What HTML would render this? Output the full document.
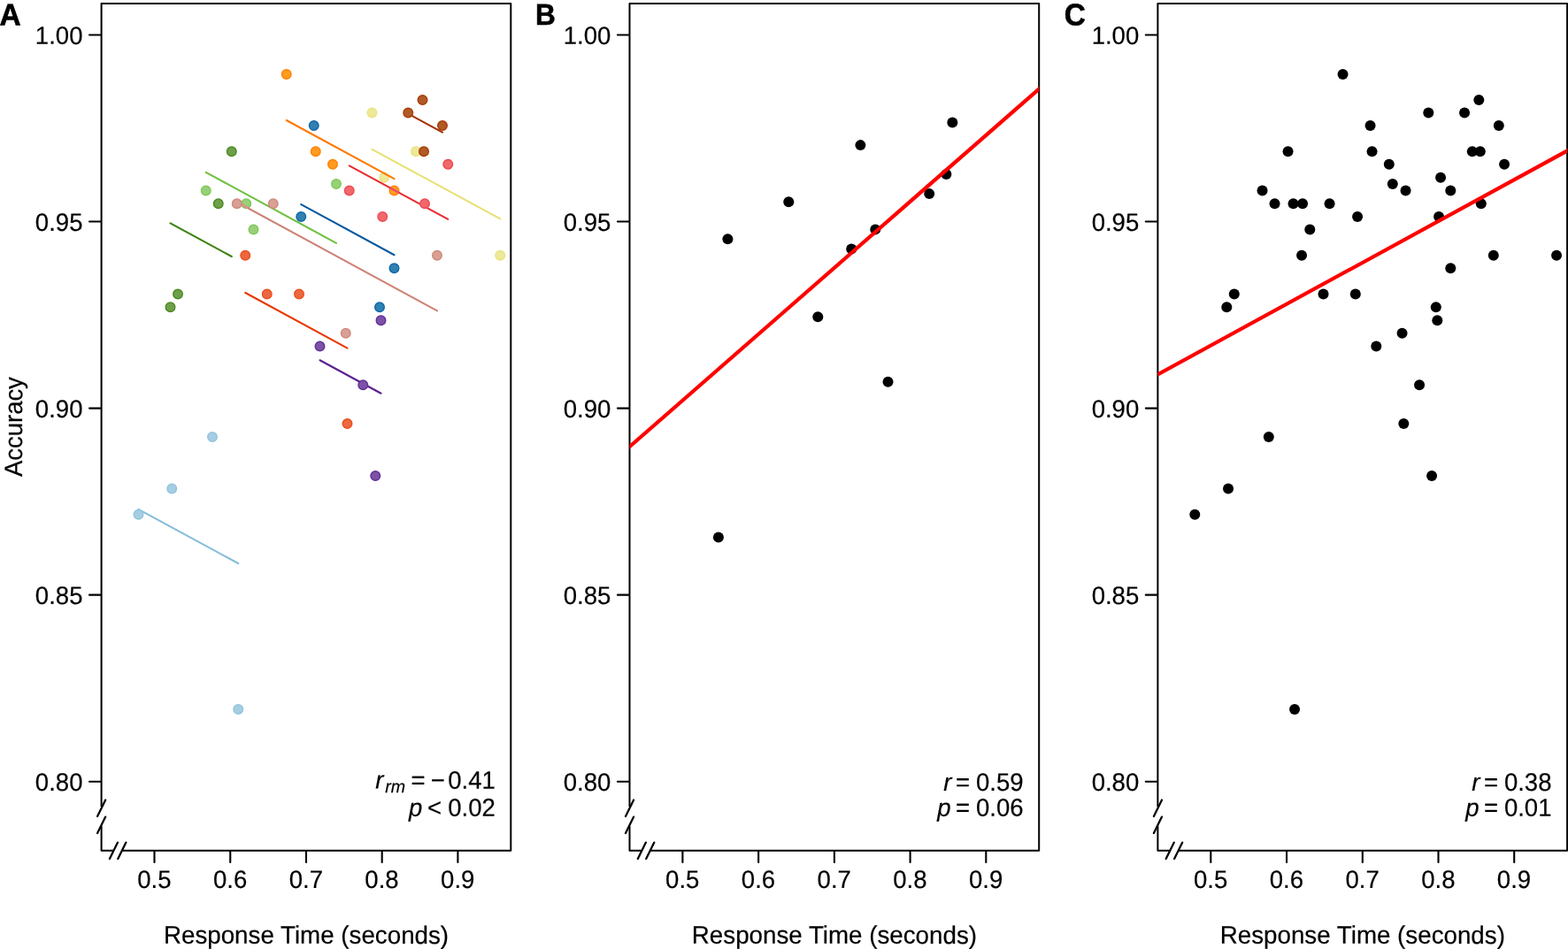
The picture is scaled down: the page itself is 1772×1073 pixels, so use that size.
<!DOCTYPE html>
<html lang="en">
<head>
<meta charset="utf-8">
<title>Accuracy vs. Response Time</title>
<style>
html,body{margin:0;padding:0;background:#fff;}
body{width:1772px;height:1073px;}
svg{display:block;}
text{font-family:"Liberation Sans",sans-serif;fill:#000;}
.t{font-size:28.4px;stroke:#000;stroke-width:0.2px;}
.lab{font-size:34.6px;font-weight:bold;stroke:#000;stroke-width:0.6px;stroke-linejoin:miter;}
.it{font-style:italic;}
.sub{font-style:italic;font-size:20.2px;}
.ax{stroke:#000;stroke-width:2;fill:none;stroke-linecap:butt;stroke-linejoin:round;}
.tk{stroke:#000;stroke-width:2.1;fill:none;stroke-linecap:round;}
.br{stroke:#000;stroke-width:2.25;fill:none;stroke-linecap:round;}
.fit{stroke:#ff0000;stroke-width:4.2;fill:none;}
.rm{stroke-width:2.1;fill:none;stroke-linecap:round;}
.d{stroke-width:1.4;}
.k{fill:#000;}
</style>
</head>
<body>
<svg width="1772" height="1073" viewBox="0 0 1772 1073" role="img" aria-label="Accuracy versus response time, three panels">
<rect x="0" y="0" width="1772" height="1073" fill="#fff"/>
<g id="panel-A">
<text class="lab" style="font-size:34.6px" transform="translate(-0.4 28.6) rotate(0.05) scale(0.965 1)">A</text>
<path class="ax" d="M114.6 912 V4.1 H577.3 V961.75 H137.6"/>
<path class="ax" d="M114.6 934 V961.75 H127.9"/>
<line class="br" x1="110.1" y1="923" x2="119.2" y2="904.5"/>
<line class="br" x1="110.1" y1="942.1" x2="119.2" y2="923.6"/>
<line class="br" x1="123.9" y1="970.9" x2="133" y2="952.6"/>
<line class="br" x1="133.3" y1="970.9" x2="142.4" y2="952.6"/>
<line class="tk" x1="101" y1="39.5" x2="113.6" y2="39.5"/>
<text class="t" text-anchor="end" transform="translate(93.45 49.9) rotate(0.05) scale(0.97 1)">1.00</text>
<line class="tk" x1="101" y1="250.55" x2="113.6" y2="250.55"/>
<text class="t" text-anchor="end" transform="translate(93.45 260.95) rotate(0.05) scale(0.97 1)">0.95</text>
<line class="tk" x1="101" y1="461.6" x2="113.6" y2="461.6"/>
<text class="t" text-anchor="end" transform="translate(93.45 472) rotate(0.05) scale(0.97 1)">0.90</text>
<line class="tk" x1="101" y1="672.65" x2="113.6" y2="672.65"/>
<text class="t" text-anchor="end" transform="translate(93.45 683.05) rotate(0.05) scale(0.97 1)">0.85</text>
<line class="tk" x1="101" y1="883.7" x2="113.6" y2="883.7"/>
<text class="t" text-anchor="end" transform="translate(93.45 894.1) rotate(0.05) scale(0.97 1)">0.80</text>
<line class="tk" x1="174.5" y1="962.75" x2="174.5" y2="974.9"/>
<text class="t" text-anchor="middle" transform="translate(174.3 1004) rotate(0.05) scale(0.97 1)">0.5</text>
<line class="tk" x1="260.25" y1="962.75" x2="260.25" y2="974.9"/>
<text class="t" text-anchor="middle" transform="translate(260.05 1004) rotate(0.05) scale(0.97 1)">0.6</text>
<line class="tk" x1="346" y1="962.75" x2="346" y2="974.9"/>
<text class="t" text-anchor="middle" transform="translate(345.8 1004) rotate(0.05) scale(0.97 1)">0.7</text>
<line class="tk" x1="431.7" y1="962.75" x2="431.7" y2="974.9"/>
<text class="t" text-anchor="middle" transform="translate(431.5 1004) rotate(0.05) scale(0.97 1)">0.8</text>
<line class="tk" x1="517.4" y1="962.75" x2="517.4" y2="974.9"/>
<text class="t" text-anchor="middle" transform="translate(517.2 1004) rotate(0.05) scale(0.97 1)">0.9</text>
<text class="t tt" text-anchor="middle" transform="translate(346 1066.8) rotate(0.05) scale(0.977 1)">Response Time (seconds)</text>
<text class="t tt" text-anchor="middle" transform="translate(25.1 482.6) rotate(-89.95) scale(0.967 1)">Accuracy</text>
<g id="s-lblue">
<line class="rm" stroke="#85bdda" x1="156.5" y1="575.8" x2="269.25" y2="637.02"/>
<circle class="d" cx="156.5" cy="581.75" r="5.3" fill="#a6cde2" stroke="#93c3dd"/>
<circle class="d" cx="194.25" cy="552.5" r="5.3" fill="#a6cde2" stroke="#93c3dd"/>
<circle class="d" cx="240" cy="494" r="5.3" fill="#a6cde2" stroke="#93c3dd"/>
<circle class="d" cx="269.25" cy="802" r="5.3" fill="#a6cde2" stroke="#93c3dd"/>
</g>
<g id="s-dgreen">
<line class="rm" stroke="#3e8412" x1="192.5" y1="252.39" x2="261.75" y2="290"/>
<circle class="d" cx="192.5" cy="347.25" r="5.3" fill="#6e9f4a" stroke="#4a8a20"/>
<circle class="d" cx="201" cy="332.5" r="5.3" fill="#6e9f4a" stroke="#4a8a20"/>
<circle class="d" cx="246.75" cy="230.25" r="5.3" fill="#6e9f4a" stroke="#4a8a20"/>
<circle class="d" cx="261.75" cy="171.25" r="5.3" fill="#6e9f4a" stroke="#4a8a20"/>
</g>
<g id="s-lgreen">
<line class="rm" stroke="#70c040" x1="232.75" y1="194.85" x2="380" y2="274.81"/>
<circle class="d" cx="232.75" cy="215.5" r="5.3" fill="#98d078" stroke="#80c858"/>
<circle class="d" cx="278.25" cy="230.25" r="5.3" fill="#98d078" stroke="#80c858"/>
<circle class="d" cx="286.5" cy="259.5" r="5.3" fill="#98d078" stroke="#80c858"/>
<circle class="d" cx="380" cy="208" r="5.3" fill="#98d078" stroke="#80c858"/>
</g>
<g id="s-rosy">
<line class="rm" stroke="#ce8276" x1="267.75" y1="228.52" x2="494" y2="351.38"/>
<clipPath id="x-rosy"><circle cx="278.25" cy="230.25" r="5.6"/></clipPath>
<line class="rm" stroke="#ec8a98" clip-path="url(#x-rosy)" x1="267.75" y1="228.52" x2="494" y2="351.38"/>
<circle class="d" cx="267.75" cy="230.25" r="5.3" fill="#d9a094" stroke="#d08a7c"/>
<circle class="d" cx="308.75" cy="230.25" r="5.3" fill="#d9a094" stroke="#d08a7c"/>
<circle class="d" cx="390.75" cy="376.75" r="5.3" fill="#d9a094" stroke="#d08a7c"/>
<circle class="d" cx="494" cy="288.75" r="5.3" fill="#d9a094" stroke="#d08a7c"/>
</g>
<g id="s-ored">
<line class="rm" stroke="#e83800" x1="277.25" y1="330.97" x2="392.5" y2="393.55"/>
<circle class="d" cx="277.25" cy="288.75" r="5.3" fill="#ec6840" stroke="#ea4e1c"/>
<circle class="d" cx="301.75" cy="332.5" r="5.3" fill="#ec6840" stroke="#ea4e1c"/>
<circle class="d" cx="338" cy="332.5" r="5.3" fill="#ec6840" stroke="#ea4e1c"/>
<circle class="d" cx="392.5" cy="479" r="5.3" fill="#ec6840" stroke="#ea4e1c"/>
</g>
<g id="s-yellow">
<line class="rm" stroke="#e8e070" x1="420.5" y1="168.83" x2="565.25" y2="247.43"/>
<circle class="d" cx="420.5" cy="127.5" r="5.3" fill="#ede998" stroke="#e8e480"/>
<circle class="d" cx="470" cy="171.25" r="5.3" fill="#ede998" stroke="#e8e480"/>
<circle class="d" cx="434.25" cy="200.75" r="5.3" fill="#ede998" stroke="#e8e480"/>
<circle class="d" cx="565.25" cy="288.75" r="5.3" fill="#ede998" stroke="#e8e480"/>
</g>
<g id="s-orange">
<line class="rm" stroke="#ff7800" x1="323.75" y1="136.02" x2="445.5" y2="202.13"/>
<circle class="d" cx="323.75" cy="84" r="5.3" fill="#ff9c20" stroke="#ff8000"/>
<circle class="d" cx="356.75" cy="171.25" r="5.3" fill="#ff9c20" stroke="#ff8000"/>
<circle class="d" cx="376" cy="185.75" r="5.3" fill="#ff9c20" stroke="#ff8000"/>
<circle class="d" cx="445.5" cy="215.5" r="5.3" fill="#ff9c20" stroke="#ff8000"/>
</g>
<g id="s-blue">
<line class="rm" stroke="#075aa0" x1="340.25" y1="231.07" x2="445.5" y2="288.22"/>
<circle class="d" cx="354.75" cy="142" r="5.3" fill="#3080b2" stroke="#1068a8"/>
<circle class="d" cx="340.25" cy="245" r="5.3" fill="#3080b2" stroke="#1068a8"/>
<circle class="d" cx="445.5" cy="303.25" r="5.3" fill="#3080b2" stroke="#1068a8"/>
<circle class="d" cx="429" cy="347.25" r="5.3" fill="#3080b2" stroke="#1068a8"/>
</g>
<g id="s-purple">
<line class="rm" stroke="#5a2090" x1="361.5" y1="407.25" x2="430.5" y2="444.71"/>
<circle class="d" cx="430.5" cy="362.25" r="5.3" fill="#7d52a6" stroke="#60309a"/>
<circle class="d" cx="361.5" cy="391.5" r="5.3" fill="#7d52a6" stroke="#60309a"/>
<circle class="d" cx="410.25" cy="435.25" r="5.3" fill="#7d52a6" stroke="#60309a"/>
<circle class="d" cx="424.25" cy="538" r="5.3" fill="#7d52a6" stroke="#60309a"/>
</g>
<g id="s-pink">
<line class="rm" stroke="#eb2a30" x1="394.75" y1="187.33" x2="506.25" y2="247.87"/>
<clipPath id="x-pink"><circle cx="445.5" cy="215.5" r="5.6"/></clipPath>
<line class="rm" stroke="#e8527c" clip-path="url(#x-pink)" x1="394.75" y1="187.33" x2="506.25" y2="247.87"/>
<circle class="d" cx="506.25" cy="185.75" r="5.3" fill="#f0686c" stroke="#ee4a52"/>
<circle class="d" cx="394.75" cy="215.5" r="5.3" fill="#f0686c" stroke="#ee4a52"/>
<circle class="d" cx="480" cy="230.25" r="5.3" fill="#f0686c" stroke="#ee4a52"/>
<circle class="d" cx="432.25" cy="245" r="5.3" fill="#f0686c" stroke="#ee4a52"/>
</g>
<g id="s-brown">
<line class="rm" stroke="#a63000" x1="461.25" y1="128.56" x2="500" y2="149.6"/>
<circle class="d" cx="477.5" cy="113" r="5.3" fill="#b05a28" stroke="#a83c04"/>
<circle class="d" cx="461.25" cy="127.5" r="5.3" fill="#b05a28" stroke="#a83c04"/>
<circle class="d" cx="500" cy="142" r="5.3" fill="#b05a28" stroke="#a83c04"/>
<circle class="d" cx="479" cy="171.25" r="5.3" fill="#b05a28" stroke="#a83c04"/>
</g>
<text class="t" transform="translate(424.2 891.6) rotate(0.05) scale(0.97 1)"><tspan class="it" x="0" y="0">r</tspan><tspan class="sub" x="11.44" y="4.6">rm</tspan><tspan x="41.44" y="0">=</tspan><tspan x="64.54" y="0">−</tspan><tspan x="84.64" y="0">0.41</tspan></text>
<text class="t" transform="translate(462.1 922.7) rotate(0.05) scale(0.97 1)"><tspan class="it" x="0" y="0">p</tspan><tspan x="21.55" y="0">&lt;</tspan><tspan x="45.57" y="0">0.02</tspan></text>
</g>
<g id="panel-B">
<text class="lab" style="font-size:33.6px" transform="translate(604.9 28.1) rotate(0.05) scale(0.94 1)">B</text>
<path class="ax" d="M711.5 912 V4.1 H1174.2 V961.75 H734.5"/>
<path class="ax" d="M711.5 934 V961.75 H724.8"/>
<line class="br" x1="707" y1="923" x2="716.1" y2="904.5"/>
<line class="br" x1="707" y1="942.1" x2="716.1" y2="923.6"/>
<line class="br" x1="720.8" y1="970.9" x2="729.9" y2="952.6"/>
<line class="br" x1="730.2" y1="970.9" x2="739.3" y2="952.6"/>
<line class="tk" x1="697.9" y1="39.5" x2="710.5" y2="39.5"/>
<text class="t" text-anchor="end" transform="translate(690.35 49.9) rotate(0.05) scale(0.97 1)">1.00</text>
<line class="tk" x1="697.9" y1="250.55" x2="710.5" y2="250.55"/>
<text class="t" text-anchor="end" transform="translate(690.35 260.95) rotate(0.05) scale(0.97 1)">0.95</text>
<line class="tk" x1="697.9" y1="461.6" x2="710.5" y2="461.6"/>
<text class="t" text-anchor="end" transform="translate(690.35 472) rotate(0.05) scale(0.97 1)">0.90</text>
<line class="tk" x1="697.9" y1="672.65" x2="710.5" y2="672.65"/>
<text class="t" text-anchor="end" transform="translate(690.35 683.05) rotate(0.05) scale(0.97 1)">0.85</text>
<line class="tk" x1="697.9" y1="883.7" x2="710.5" y2="883.7"/>
<text class="t" text-anchor="end" transform="translate(690.35 894.1) rotate(0.05) scale(0.97 1)">0.80</text>
<line class="tk" x1="771.4" y1="962.75" x2="771.4" y2="974.9"/>
<text class="t" text-anchor="middle" transform="translate(771.2 1004) rotate(0.05) scale(0.97 1)">0.5</text>
<line class="tk" x1="857.15" y1="962.75" x2="857.15" y2="974.9"/>
<text class="t" text-anchor="middle" transform="translate(856.95 1004) rotate(0.05) scale(0.97 1)">0.6</text>
<line class="tk" x1="942.9" y1="962.75" x2="942.9" y2="974.9"/>
<text class="t" text-anchor="middle" transform="translate(942.7 1004) rotate(0.05) scale(0.97 1)">0.7</text>
<line class="tk" x1="1028.6" y1="962.75" x2="1028.6" y2="974.9"/>
<text class="t" text-anchor="middle" transform="translate(1028.4 1004) rotate(0.05) scale(0.97 1)">0.8</text>
<line class="tk" x1="1114.3" y1="962.75" x2="1114.3" y2="974.9"/>
<text class="t" text-anchor="middle" transform="translate(1114.1 1004) rotate(0.05) scale(0.97 1)">0.9</text>
<text class="t tt" text-anchor="middle" transform="translate(942.9 1066.8) rotate(0.05) scale(0.977 1)">Response Time (seconds)</text>
<circle class="k" cx="811.9" cy="607.56" r="6"/>
<circle class="k" cx="822.4" cy="270.31" r="6"/>
<circle class="k" cx="891.27" cy="228.31" r="6"/>
<circle class="k" cx="962.21" cy="281.5" r="6"/>
<circle class="k" cx="924.27" cy="358.19" r="6"/>
<circle class="k" cx="1069.4" cy="197.06" r="6"/>
<circle class="k" cx="972.4" cy="164.12" r="6"/>
<circle class="k" cx="989.27" cy="259.38" r="6"/>
<circle class="k" cx="1003.52" cy="431.75" r="6"/>
<circle class="k" cx="1050.21" cy="219.12" r="6"/>
<circle class="k" cx="1076.34" cy="138.44" r="6"/>
<clipPath id="clip1"><rect x="711.5" y="0" width="462.7" height="1073"/></clipPath>
<line class="fit" clip-path="url(#clip1)" x1="703.5" y1="512.09" x2="1182.2" y2="93.61"/>
<text class="t" transform="translate(1066.3 893.9) rotate(0.05) scale(0.97 1)"><tspan class="it" x="0" y="0">r</tspan><tspan x="14.23" y="0">=</tspan><tspan x="37.84" y="0">0.59</tspan></text>
<text class="t" transform="translate(1059.3 922.7) rotate(0.05) scale(0.97 1)"><tspan class="it" x="0" y="0">p</tspan><tspan x="21.44" y="0">=</tspan><tspan x="45.05" y="0">0.06</tspan></text>
</g>
<g id="panel-C">
<text class="lab" style="font-size:34.6px" transform="translate(1202.7 28.42) rotate(0.05) scale(0.964 1)">C</text>
<path class="ax" d="M1308.4 912 V4.1 H1771.1 V961.75 H1331.4"/>
<path class="ax" d="M1308.4 934 V961.75 H1321.7"/>
<line class="br" x1="1303.9" y1="923" x2="1313" y2="904.5"/>
<line class="br" x1="1303.9" y1="942.1" x2="1313" y2="923.6"/>
<line class="br" x1="1317.7" y1="970.9" x2="1326.8" y2="952.6"/>
<line class="br" x1="1327.1" y1="970.9" x2="1336.2" y2="952.6"/>
<line class="tk" x1="1294.8" y1="39.5" x2="1307.4" y2="39.5"/>
<text class="t" text-anchor="end" transform="translate(1287.25 49.9) rotate(0.05) scale(0.97 1)">1.00</text>
<line class="tk" x1="1294.8" y1="250.55" x2="1307.4" y2="250.55"/>
<text class="t" text-anchor="end" transform="translate(1287.25 260.95) rotate(0.05) scale(0.97 1)">0.95</text>
<line class="tk" x1="1294.8" y1="461.6" x2="1307.4" y2="461.6"/>
<text class="t" text-anchor="end" transform="translate(1287.25 472) rotate(0.05) scale(0.97 1)">0.90</text>
<line class="tk" x1="1294.8" y1="672.65" x2="1307.4" y2="672.65"/>
<text class="t" text-anchor="end" transform="translate(1287.25 683.05) rotate(0.05) scale(0.97 1)">0.85</text>
<line class="tk" x1="1294.8" y1="883.7" x2="1307.4" y2="883.7"/>
<text class="t" text-anchor="end" transform="translate(1287.25 894.1) rotate(0.05) scale(0.97 1)">0.80</text>
<line class="tk" x1="1368.3" y1="962.75" x2="1368.3" y2="974.9"/>
<text class="t" text-anchor="middle" transform="translate(1368.1 1004) rotate(0.05) scale(0.97 1)">0.5</text>
<line class="tk" x1="1454.05" y1="962.75" x2="1454.05" y2="974.9"/>
<text class="t" text-anchor="middle" transform="translate(1453.85 1004) rotate(0.05) scale(0.97 1)">0.6</text>
<line class="tk" x1="1539.8" y1="962.75" x2="1539.8" y2="974.9"/>
<text class="t" text-anchor="middle" transform="translate(1539.6 1004) rotate(0.05) scale(0.97 1)">0.7</text>
<line class="tk" x1="1625.5" y1="962.75" x2="1625.5" y2="974.9"/>
<text class="t" text-anchor="middle" transform="translate(1625.3 1004) rotate(0.05) scale(0.97 1)">0.8</text>
<line class="tk" x1="1711.2" y1="962.75" x2="1711.2" y2="974.9"/>
<text class="t" text-anchor="middle" transform="translate(1711 1004) rotate(0.05) scale(0.97 1)">0.9</text>
<text class="t tt" text-anchor="middle" transform="translate(1539.8 1066.8) rotate(0.05) scale(0.977 1)">Response Time (seconds)</text>
<circle class="k" cx="1350.3" cy="581.75" r="6"/>
<circle class="k" cx="1388.05" cy="552.5" r="6"/>
<circle class="k" cx="1433.8" cy="494" r="6"/>
<circle class="k" cx="1463.05" cy="802" r="6"/>
<circle class="k" cx="1386.3" cy="347.25" r="6"/>
<circle class="k" cx="1394.8" cy="332.5" r="6"/>
<circle class="k" cx="1440.55" cy="230.25" r="6"/>
<circle class="k" cx="1455.55" cy="171.25" r="6"/>
<circle class="k" cx="1426.55" cy="215.5" r="6"/>
<circle class="k" cx="1472.05" cy="230.25" r="6"/>
<circle class="k" cx="1480.3" cy="259.5" r="6"/>
<circle class="k" cx="1573.8" cy="208" r="6"/>
<circle class="k" cx="1461.55" cy="230.25" r="6"/>
<circle class="k" cx="1502.55" cy="230.25" r="6"/>
<circle class="k" cx="1584.55" cy="376.75" r="6"/>
<circle class="k" cx="1687.8" cy="288.75" r="6"/>
<circle class="k" cx="1471.05" cy="288.75" r="6"/>
<circle class="k" cx="1495.55" cy="332.5" r="6"/>
<circle class="k" cx="1531.8" cy="332.5" r="6"/>
<circle class="k" cx="1586.3" cy="479" r="6"/>
<circle class="k" cx="1614.3" cy="127.5" r="6"/>
<circle class="k" cx="1663.8" cy="171.25" r="6"/>
<circle class="k" cx="1628.05" cy="200.75" r="6"/>
<circle class="k" cx="1759.05" cy="288.75" r="6"/>
<circle class="k" cx="1517.55" cy="84" r="6"/>
<circle class="k" cx="1550.55" cy="171.25" r="6"/>
<circle class="k" cx="1569.8" cy="185.75" r="6"/>
<circle class="k" cx="1639.3" cy="215.5" r="6"/>
<circle class="k" cx="1548.55" cy="142" r="6"/>
<circle class="k" cx="1534.05" cy="245" r="6"/>
<circle class="k" cx="1639.3" cy="303.25" r="6"/>
<circle class="k" cx="1622.8" cy="347.25" r="6"/>
<circle class="k" cx="1624.3" cy="362.25" r="6"/>
<circle class="k" cx="1555.3" cy="391.5" r="6"/>
<circle class="k" cx="1604.05" cy="435.25" r="6"/>
<circle class="k" cx="1618.05" cy="538" r="6"/>
<circle class="k" cx="1700.05" cy="185.75" r="6"/>
<circle class="k" cx="1588.55" cy="215.5" r="6"/>
<circle class="k" cx="1673.8" cy="230.25" r="6"/>
<circle class="k" cx="1626.05" cy="245" r="6"/>
<circle class="k" cx="1671.3" cy="113" r="6"/>
<circle class="k" cx="1655.05" cy="127.5" r="6"/>
<circle class="k" cx="1693.8" cy="142" r="6"/>
<circle class="k" cx="1672.8" cy="171.25" r="6"/>
<clipPath id="clip2"><rect x="1308.4" y="0" width="462.7" height="1073"/></clipPath>
<line class="fit" clip-path="url(#clip2)" x1="1300.4" y1="427.77" x2="1779.1" y2="166.13"/>
<text class="t" transform="translate(1663.2 893.9) rotate(0.05) scale(0.97 1)"><tspan class="it" x="0" y="0">r</tspan><tspan x="14.23" y="0">=</tspan><tspan x="37.84" y="0">0.38</tspan></text>
<text class="t" transform="translate(1656.2 922.7) rotate(0.05) scale(0.97 1)"><tspan class="it" x="0" y="0">p</tspan><tspan x="21.44" y="0">=</tspan><tspan x="45.05" y="0">0.01</tspan></text>
</g>
</svg>
</body>
</html>
